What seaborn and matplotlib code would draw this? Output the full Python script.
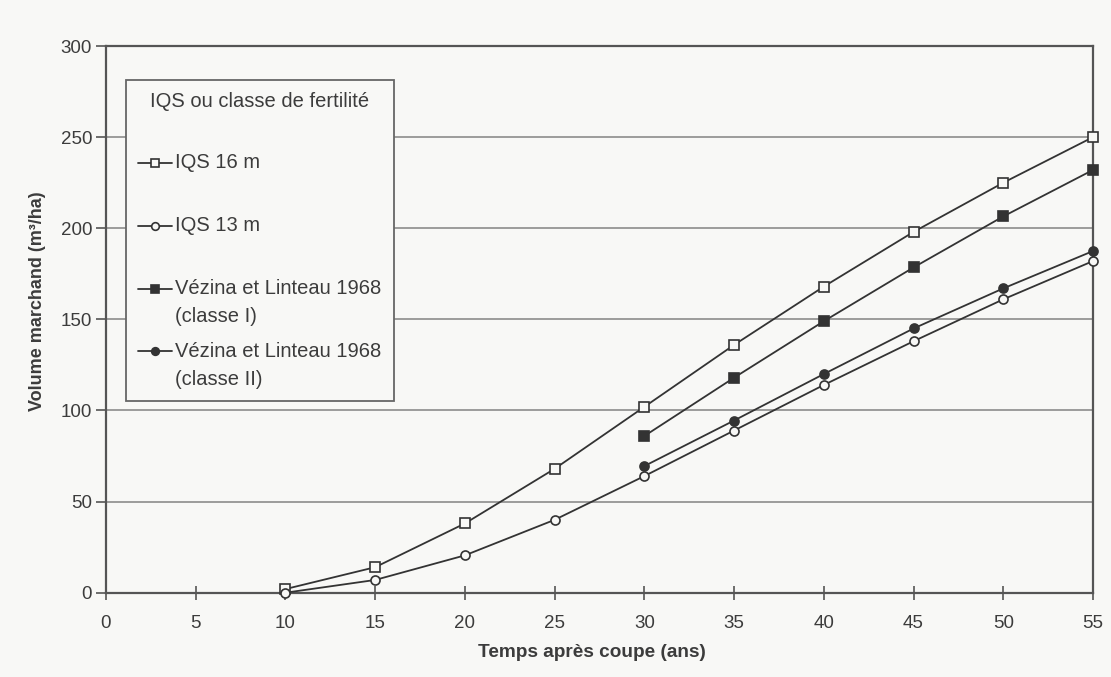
import matplotlib
matplotlib.use("Agg")
import matplotlib.pyplot as plt
import seaborn as sns
import pandas as pd

# Growth of merchantable volume after cutting
years_iqs = [10, 15, 20, 25, 30, 35, 40, 45, 50, 55]
iqs16 = [2, 14, 38, 68, 102, 136, 168, 198, 225, 250]
iqs13 = [0, 7, 20.5, 40, 64, 89, 114, 138, 161, 182]

years_vez = [30, 35, 40, 45, 50, 55]
vezina_I = [86, 118, 149, 178.5, 206.5, 232]
vezina_II = [69.5, 94.5, 120, 145, 167, 187.5]

labels = [
    "IQS 16 m",
    "IQS 13 m",
    "Vézina et Linteau 1968\n(classe I)",
    "Vézina et Linteau 1968\n(classe II)",
]
legend_title = "IQS ou classe de fertilité"
x_label = "Temps après coupe (ans)"
y_label = "Volume marchand (m³/ha)"
x_ticks = list(range(0, 56, 5))
y_ticks = list(range(0, 301, 50))

sns.set_theme(style="white")
plt.rcParams["font.family"] = ["Liberation Sans", "DejaVu Sans"]

paper = "#f8f8f6"
ink = "#333333"
text_col = "#3c3c3c"

fig = plt.figure(figsize=(11.11, 6.77), dpi=100, facecolor=paper)
ax = fig.add_axes([0.0954, 0.1245, 0.8884, 0.8075])
ax.set_facecolor(paper)

series = [
    (years_iqs, iqs16, "s", paper),
    (years_iqs, iqs13, "o", paper),
    (years_vez, vezina_I, "s", ink),
    (years_vez, vezina_II, "o", ink),
]
for (xs, ys, mk, face), lab in zip(series, labels):
    df = pd.DataFrame({"x": xs, "y": ys})
    sns.lineplot(data=df, x="x", y="y", ax=ax, color=ink, lw=1.3,
                 marker=mk, markersize=6.5, markerfacecolor=face,
                 markeredgecolor=ink, markeredgewidth=1.2,
                 label=lab, legend=False, zorder=3, clip_on=False)

# horizontal reference lines
for yv in y_ticks[1:-1]:
    ax.axhline(yv, color="#8c8c8c", lw=1.2, zorder=1)

ax.set_xlim(0, 55)
ax.set_ylim(0, 300)
ax.set_xticks(x_ticks)
ax.set_yticks(y_ticks)

ax.set_xticklabels([str(t) for t in x_ticks], fontsize=13.5, color=text_col)
ax.set_yticklabels([str(t) for t in y_ticks], fontsize=13.5, color=text_col)
ax.tick_params(axis="x", direction="inout", length=10, width=1.2,
               color="#555555", pad=11, bottom=True)
ax.tick_params(axis="y", direction="out", length=7, width=1.2,
               color="#555555", pad=3, left=True)

ax.set_xlabel(x_label, fontsize=13.7, fontweight="bold", color=text_col)
ax.set_ylabel(y_label, fontsize=13, fontweight="bold", color=text_col)
ax.xaxis.set_label_coords(0.492, -0.094)
ax.yaxis.set_label_coords(-0.061, 0.534)

for sp in ax.spines.values():
    sp.set_visible(True)
    sp.set_color("#555555")
    sp.set_linewidth(1.6)

# every legend row is two text lines tall so the rows are evenly spaced
fs = 14.5
line_sp = 1.6
leg_labels = [lab if "\n" in lab else lab + "\n" for lab in labels]
handles = ax.get_lines()[:4]
leg = ax.legend(handles, leg_labels, title=legend_title, loc="upper left",
                bbox_to_anchor=(0.0203, 0.9378), frameon=True, fancybox=False,
                fontsize=fs, title_fontsize=fs, handlelength=1.7,
                handletextpad=0.15, labelspacing=0.78,
                borderpad=0.6, borderaxespad=0)
leg.get_frame().set_edgecolor("#666666")
leg.get_frame().set_linewidth(1.3)
leg.get_frame().set_facecolor(paper)
leg.get_frame().set_alpha(1)
leg.get_title().set_color(text_col)
leg._legend_box.sep = 30.5
for t in leg.get_texts():
    t.set_color(text_col)
    t.set_linespacing(line_sp)
# raise each handle to the first line of its label
shift = 0.5 * line_sp * 0.88 * fs
for h in leg.legend_handles:
    yd = h.get_ydata()
    h.set_ydata([y + shift for y in yd])
    h.set_markersize(5.5)

fig.savefig("out.png", dpi=100, facecolor=paper)
